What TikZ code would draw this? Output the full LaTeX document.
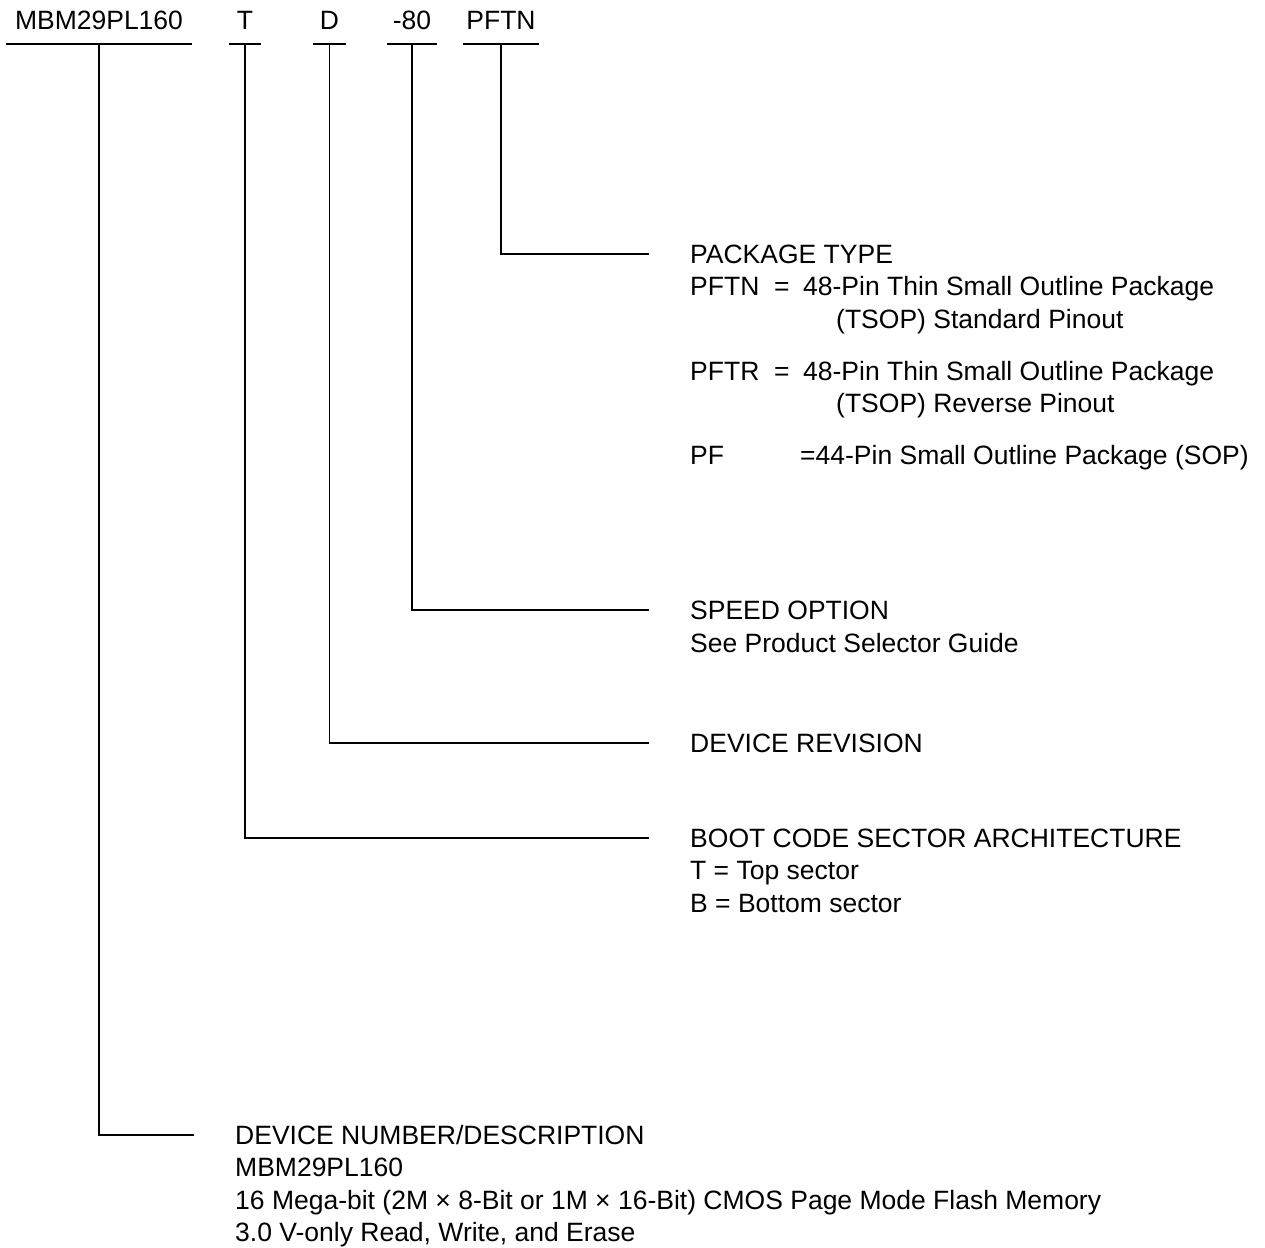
\documentclass[tikz,border=0pt]{standalone}
\usepackage{fontspec}
\setmainfont{Liberation Sans}
\usetikzlibrary{positioning}
\newcommand{\col}[2]{\makebox[#1][l]{#2}}

\begin{document}
\begin{tikzpicture}[x=1pt, y=-1pt,
          code/.style={font=\fontsize{26.5}{32}\selectfont, anchor=south,
                       inner xsep=0pt, inner ysep=14pt,
                       text height=19pt, text depth=0pt},
          txt/.style={font=\fontsize{26.5}{32}\selectfont, anchor=west,
                      inner sep=0pt, text height=19pt, text depth=0pt},
          bar/.style={line width=1.1pt},
          lead/.style={line width=1.1pt, shorten >=41pt}
        ]
          \useasboundingbox (0,0) rectangle (1265,1247);
          % part number fields
          \node[code, minimum width=185pt] (dev) at (99,44) {MBM29PL160};
          \node[code, minimum width=32pt] (boot) at (245,44) {T};
          \node[code, minimum width=33pt] (rev) at (329.5,44) {D};
          \node[code, minimum width=49pt] (speed) at (412,44) {-80};
          \node[code, minimum width=76pt] (pkg) at (501,44) {PFTN};
          \foreach \n in {dev,boot,rev,speed,pkg}
            \draw[bar] (\n.south west) -- (\n.south east);
          % package type
          \node[txt] (pkgtype) at (690,254) {PACKAGE TYPE};
          \node[txt, below right=13pt and 0pt of pkgtype.south west] (pftn)
            {\col{84pt}{PFTN}\col{29pt}{=}48-Pin Thin Small Outline Package};
          \node[txt, below right=13pt and 0pt of pftn.south west] (pftnb)
            {\hspace*{146pt}(TSOP) Standard Pinout};
          \node[txt, below right=32.5pt and 0pt of pftnb.south west] (pftr)
            {\col{84pt}{PFTR}\col{29pt}{=}48-Pin Thin Small Outline Package};
          \node[txt, below right=13pt and 0pt of pftr.south west] (pftrb)
            {\hspace*{146pt}(TSOP) Reverse Pinout};
          \node[txt, below right=32.5pt and 0pt of pftrb.south west] (pf)
            {\col{110pt}{PF}=44-Pin Small Outline Package (SOP)};
          % speed option
          \node[txt] (speedopt) at (690,610) {SPEED OPTION};
          \node[txt, below right=14pt and 0pt of speedopt.south west] (guide)
            {See Product Selector Guide};
          % device revision
          \node[txt] (devrev) at (690,743) {DEVICE REVISION};
          % boot code sector
          \node[txt] (bootarch) at (690,838) {BOOT CODE SECTOR ARCHITECTURE};
          \node[txt, below right=13pt and 0pt of bootarch.south west] (topsec) {T = Top sector};
          \node[txt, below right=13pt and 0pt of topsec.south west] (botsec) {B = Bottom sector};
          % device number
          \node[txt] (devnum) at (235,1135) {DEVICE NUMBER/DESCRIPTION};
          \node[txt, below right=13pt and 0pt of devnum.south west] (devname) {MBM29PL160};
          \node[txt, below right=13pt and 0pt of devname.south west] (devdesc)
            {16 Mega-bit (2M × 8-Bit or 1M × 16-Bit) CMOS Page Mode Flash Memory};
          \node[txt, below right=13pt and 0pt of devdesc.south west] (devvolt)
            {3.0 V-only Read, Write, and Erase};
          % leaders
          \draw[lead] (pkg.south) |- (pkgtype.west);
          \draw[lead] (speed.south) |- (speedopt.west);
          \draw[lead] (rev.south) |- (devrev.west);
          \draw[lead] (boot.south) |- (bootarch.west);
          \draw[lead] (dev.south) |- (devnum.west);
        \end{tikzpicture}
\end{document}
